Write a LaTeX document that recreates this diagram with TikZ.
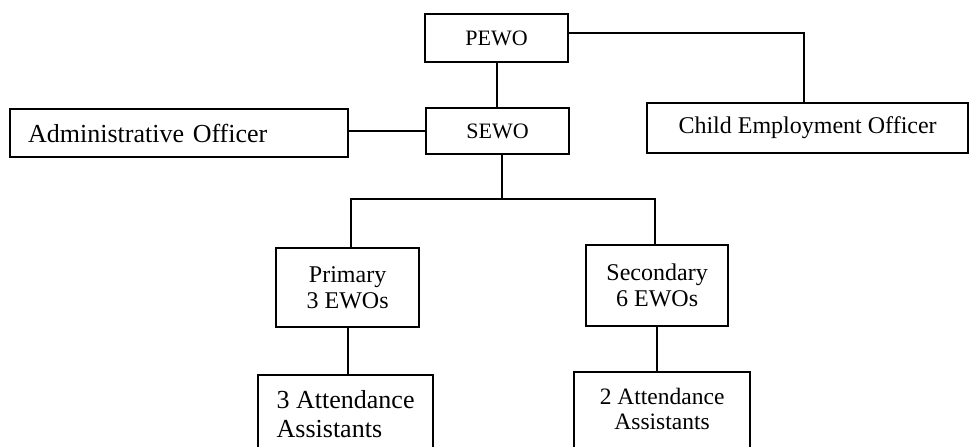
\documentclass[tikz,border=0pt]{standalone}
\usepackage{fontspec}
\setmainfont{Liberation Serif}
\begin{document}
\begin{tikzpicture}[x=1pt,y=-1pt,
  box/.style={draw,line width=2.2pt,inner sep=0pt,anchor=north west},
  link/.style={line width=2.2pt},
  fA/.style={font=\fontsize{22}{25}\selectfont},
  fB/.style={font=\fontsize{24}{26.5}\selectfont},
  fC/.style={font=\fontsize{26}{29}\selectfont}]
\useasboundingbox (0,0) rectangle (969,447);
\clip (0,0) rectangle (969,447);

% top of the hierarchy
\node[box,fA,minimum width=143pt,minimum height=48pt] (pewo) at (424,13) {PEWO};
\node[box,fA,minimum width=143pt,minimum height=46pt] (sewo) at (425,107) {SEWO};
\node[box,fC,inner xsep=18pt,text width=302pt,align=left,minimum height=48pt] (admin) at (9,108) {Administrative Officer};
\node[box,fB,minimum width=321pt,minimum height=50pt] (ceo) at (646,102) {Child Employment Officer};

% phase teams
\node[box,fB,align=center,minimum width=143pt,minimum height=79pt] (primary) at (275,247) {Primary\\3 EWOs};
\node[box,fB,align=center,minimum width=142pt,minimum height=81pt] (secondary) at (585,244) {Secondary\\6 EWOs};

% attendance assistants (boxes run past the lower edge)
\node[box,fC,align=left,minimum width=175pt,inner ysep=15pt,text depth=40pt] (aa3) at (257,374) {3 Attendance\\Assistants};
\node[box,font=\fontsize{23.5}{25}\selectfont,align=center,minimum width=176pt,inner ysep=16pt,text depth=40pt] (aa2) at (573,371) {2 Attendance\\Assistants};

% connectors
\draw[link] (pewo.south) -- (pewo.south |- sewo.north);
\draw[link] (sewo.west) -- (sewo.west -| admin.east);
\draw[link] ([yshift=5pt]pewo.east) -| ([xshift=-4pt]ceo.north);
\coordinate (bus) at (502,199);
\draw[link] (bus |- sewo.south) -- (bus);
\draw[link] ([xshift=3pt]primary.north) |- (bus) -| ([xshift=-2pt]secondary.north);
\draw[link] (primary.south) -- (primary.south |- aa3.north);
\draw[link] (secondary.south) -- (secondary.south |- aa2.north);
\end{tikzpicture}
\end{document}
